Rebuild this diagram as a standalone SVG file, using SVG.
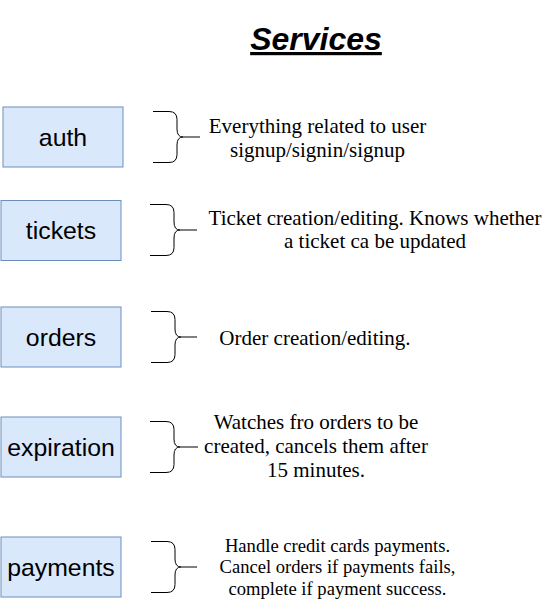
<svg xmlns="http://www.w3.org/2000/svg" width="547" height="601" viewBox="0 0 547 601">
<style>
.box{fill:#dae8fc;stroke:#6c8ebf;stroke-width:1}
.lbl{font-family:"Liberation Sans",Arial,sans-serif;font-size:24.8px;fill:#000;text-anchor:middle}
.desc{font-family:"Liberation Serif","Times New Roman",serif;font-size:21px;fill:#000;text-anchor:middle}
.small{font-size:18.6px}
.brace{fill:none;stroke:#000;stroke-width:1}
</style>
<rect width="547" height="601" fill="#fff"/>
<g id="title">
<text x="316" y="50" font-family="Liberation Sans,Arial,sans-serif" font-size="32" font-weight="bold" font-style="italic" text-anchor="middle" text-decoration="underline">Services</text>
</g>
<g id="auth">
<rect class="box" x="3" y="107" width="120" height="60"/>
<text class="lbl" x="63" y="146">auth</text>
</g>
<g id="tickets">
<rect class="box" x="1" y="200.5" width="120" height="60"/>
<text class="lbl" x="61" y="239">tickets</text>
</g>
<g id="orders">
<rect class="box" x="1" y="307" width="120" height="60"/>
<text class="lbl" x="61" y="346">orders</text>
</g>
<g id="expiration">
<rect class="box" x="1" y="417" width="120" height="60"/>
<text class="lbl" x="61" y="456">expiration</text>
</g>
<g id="payments">
<rect class="box" x="1" y="537" width="120" height="60"/>
<text class="lbl" x="61" y="576">payments</text>
</g>
<g id="connectors">
<path class="brace" d="M153,111.5 H169 Q177,111.5 177,119.5 V129 Q177,137 183,137 H200 M183,137 Q177,137 177,145 V154.5 Q177,162.5 169,162.5 H153"/>
<path class="brace" d="M150,204.5 H166 Q174,204.5 174,212.5 V222 Q174,230 180,230 H197 M180,230 Q174,230 174,238 V247.5 Q174,255.5 166,255.5 H150"/>
<path class="brace" d="M151,311.5 H167 Q175,311.5 175,319.5 V329 Q175,337 181,337 H197 M181,337 Q175,337 175,345 V354.5 Q175,362.5 167,362.5 H151"/>
<path class="brace" d="M150,421.5 H166 Q174,421.5 174,429.5 V439 Q174,447 180,447 H198 M180,447 Q174,447 174,455 V464.5 Q174,472.5 166,472.5 H150"/>
<path class="brace" d="M151,541.5 H167 Q175,541.5 175,549.5 V559 Q175,567 181,567 H197 M181,567 Q175,567 175,575 V584.5 Q175,592.5 167,592.5 H151"/>
</g>
<g id="auth-desc">
<text class="desc" x="317.5" y="133">Everything related to user</text>
<text class="desc" x="317.5" y="156.5">signup/signin/signup</text>
</g>
<g id="tickets-desc">
<text class="desc" x="375" y="225">Ticket creation/editing. Knows whether</text>
<text class="desc" x="375" y="248">a ticket ca be updated</text>
</g>
<g id="orders-desc">
<text class="desc" x="315" y="345">Order creation/editing.</text>
</g>
<g id="expiration-desc">
<text class="desc" x="316" y="429">Watches fro orders to be</text>
<text class="desc" x="316" y="453">created, cancels them after</text>
<text class="desc" x="316" y="477">15 minutes.</text>
</g>
<g id="payments-desc">
<text class="desc small" x="337.5" y="551.5">Handle credit cards payments.</text>
<text class="desc small" x="337.5" y="573">Cancel orders if payments fails,</text>
<text class="desc small" x="337.5" y="594.5">complete if payment success.</text>
</g>
</svg>
